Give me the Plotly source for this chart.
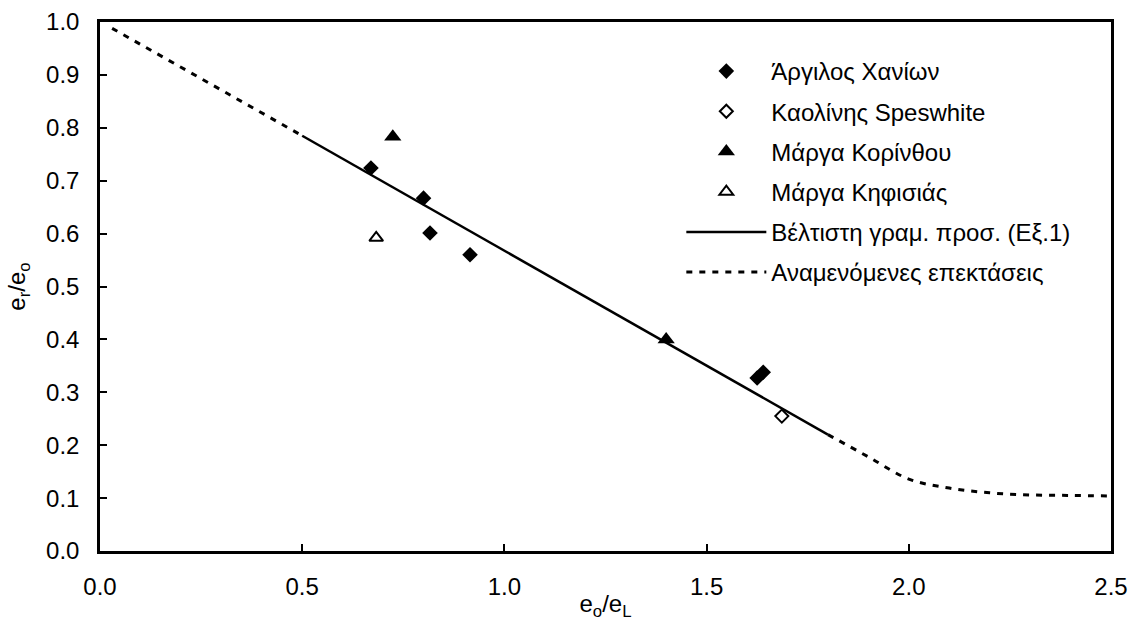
import plotly.graph_objects as go

# Data
chania_x = [0.670, 0.800, 0.816, 0.915, 1.625, 1.640]
chania_y = [0.724, 0.667, 0.601, 0.560, 0.327, 0.338]
speswhite_x = [1.686]
speswhite_y = [0.255]
korinthos_x = [0.724, 1.400]
korinthos_y = [0.783, 0.400]
kifisia_x = [0.683]
kifisia_y = [0.592]
fit_x = [0.5, 1.8]
fit_y = [0.785, 0.220]
ext_x = [0.03, 0.5, None, 1.8, 1.9, 2.0, 2.1, 2.2, 2.3, 2.4, 2.5]
ext_y = [0.988, 0.785, None, 0.220, 0.178, 0.136, 0.119, 0.110, 0.106, 0.105, 0.104]

FONT = "Arial, Liberation Sans, sans-serif"
fig = go.Figure()

fig.add_trace(go.Scatter(x=chania_x, y=chania_y, mode="markers", name="Άργιλος Χανίων",
                         legendgroup="a",
                         marker=dict(symbol="diamond", size=12, color="black")))
fig.add_trace(go.Scatter(x=speswhite_x, y=speswhite_y, mode="markers", name="Καολίνης Speswhite",
                         legendgroup="b",
                         marker=dict(symbol="diamond-open", size=10, color="black", line=dict(width=2, color="black"))))
fig.add_trace(go.Scatter(x=korinthos_x, y=korinthos_y, mode="markers", name="Μάργα Κορίνθου",
                         legendgroup="c",
                         marker=dict(symbol="triangle-up", size=15, color="black")))
fig.add_trace(go.Scatter(x=kifisia_x, y=kifisia_y, mode="markers", name="Μάργα Κηφισιάς",
                         legendgroup="d",
                         marker=dict(symbol="triangle-up-open", size=12, color="black", line=dict(width=2, color="black"))))
fig.add_trace(go.Scatter(x=fit_x, y=fit_y, mode="lines", name="Βέλτιστη γραμ. προσ. (Εξ.1)",
                         legendgroup="e",
                         line=dict(color="black", width=2.5)))
fig.add_trace(go.Scatter(x=ext_x, y=ext_y, mode="lines", name="Αναμενόμενες επεκτάσεις",
                         legendgroup="f", connectgaps=False,
                         line=dict(color="black", width=3, dash="6px,7px", shape="spline", smoothing=1.0)))

fig.update_layout(
    width=1136, height=621,
    margin=dict(l=100, r=25, t=22, b=70),
    paper_bgcolor="white", plot_bgcolor="white",
    font=dict(family=FONT, size=24, color="black"),
    showlegend=True,
    legend=dict(x=0.575, y=0.949, xanchor="left", yanchor="top",
                bgcolor="rgba(0,0,0,0)", font=dict(size=24, family=FONT),
                itemwidth=80, tracegroupgap=6, traceorder="grouped"),
)
fig.update_xaxes(range=[0, 2.5], dtick=0.5, tickformat=".1f", automargin=False,
                 showline=True, linecolor="black", linewidth=2.5, mirror=True,
                 ticks="inside", ticklen=7, tickwidth=2, tickcolor="black",
                 showgrid=False, zeroline=False, ticklabelstandoff=12,
                 title=dict(text="e<sub>o</sub>/e<sub>L</sub>", standoff=0, font=dict(size=24)))
fig.update_yaxes(range=[0, 1.0], dtick=0.1, tickformat=".1f", automargin=False,
                 showline=True, linecolor="black", linewidth=2.5, mirror=True,
                 ticks="inside", ticklen=7, tickwidth=2, tickcolor="black",
                 showgrid=False, zeroline=False, ticklabelstandoff=13,
                 title=dict(text="e<sub>r</sub>/e<sub>o</sub>", standoff=14, font=dict(size=24)))

fig.write_html("out.html", config={"displayModeBar": False},
               post_script="document.body.style.margin='0';")
